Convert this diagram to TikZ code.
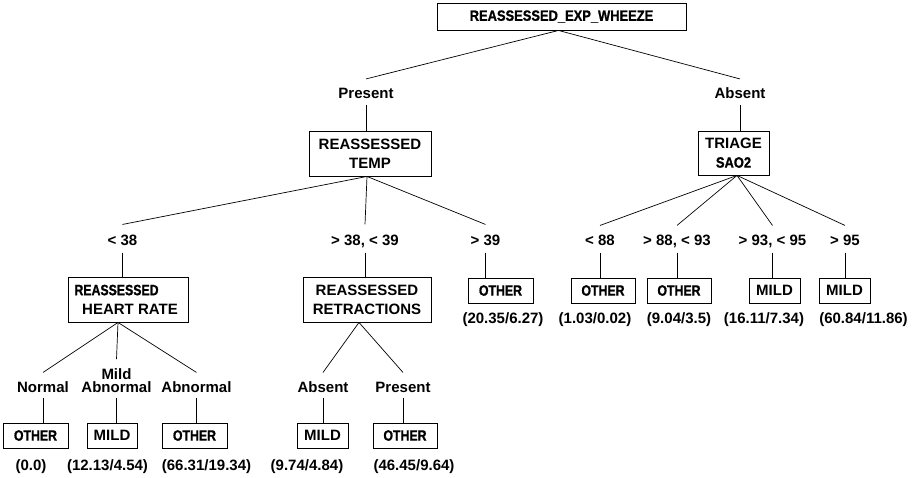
\documentclass[tikz,border=0pt]{standalone}
\usepackage{fontspec}
\setmainfont{Liberation Sans}
\newfontfamily\cfa[FakeStretch=0.82, BoldFeatures={FakeBold=1.0}]{Liberation Sans}
\newfontfamily\cfb[FakeStretch=0.86, BoldFeatures={FakeBold=1.0}]{Liberation Sans}
\begin{document}
\begin{tikzpicture}[x=1pt,y=-1pt,
  every node/.style={font=\fontsize{15}{19}\selectfont\bfseries, inner sep=0pt},
  box/.style={draw, line width=0.9pt, align=center},
  lbl/.style={text height=10.7pt, text depth=0pt},
  conn/.style={line width=0.7pt}]
\useasboundingbox (0,0) rectangle (918,478);

% boxes
\node[box, minimum width=249pt, minimum height=27pt] (root) at (561.5,16.5) {\cfb REASSESSED\_EXP\_WHEEZE};
\node[box, minimum width=122pt, minimum height=45pt] (temp) at (370,153.5) {REASSESSED\\TEMP};
\node[box, minimum width=71pt, minimum height=44pt] (sao) at (733.5,153) {TRIAGE\\{\cfb SAO2}};
\node[box, minimum width=120pt, minimum height=45pt] (hr) at (128,299.5) {\makebox[107pt][l]{\cfa REASSESSED}\\\hspace*{4pt}HEART RATE};
\node[box, minimum width=128pt, minimum height=45pt] (retr) at (367,299.5) {REASSESSED\\RETRACTIONS};

\node[box, minimum width=65pt, minimum height=25pt] (o3) at (500.5,290.5) {\cfa OTHER};
\node[box, minimum width=64pt, minimum height=25pt] (o4) at (603,290.5) {\cfa OTHER};
\node[box, minimum width=64pt, minimum height=25pt] (o5) at (679,290.5) {\cfa OTHER};
\node[box, minimum width=51pt, minimum height=25pt] (m6) at (774.5,290.5) {MILD};
\node[box, minimum width=51pt, minimum height=25pt] (m7) at (844.5,290.5) {MILD};

\node[box, minimum width=65pt, minimum height=25pt] (b1) at (35.5,435.5) {\cfa OTHER};
\node[box, minimum width=50pt, minimum height=25pt] (b2) at (112,435.5) {MILD};
\node[box, minimum width=65pt, minimum height=25pt] (b3) at (194.5,435.5) {\cfa OTHER};
\node[box, minimum width=51pt, minimum height=25pt] (b4) at (322.5,435.5) {MILD};
\node[box, minimum width=64pt, minimum height=25pt] (b5) at (405,435.5) {\cfa OTHER};

% branch labels
\node[lbl] (pres) at (366,93.5) {Present};
\node[lbl] (abs) at (740,93.5) {Absent};
\node[lbl] (lt38) at (122.5,240) {< 38};
\node[lbl] (mid) at (365,240) {> 38, < 39};
\node[lbl] (gt39) at (485.5,240) {> 39};
\node[lbl] (lt88) at (600,240) {< 88};
\node[lbl] (r2) at (677,240) {> 88, < 93};
\node[lbl] (r3) at (772.5,240) {> 93, < 95};
\node[lbl] (gt95) at (845,240) {> 95};
\node[lbl] (norm) at (43,387) {Normal};
\node[align=center, font=\fontsize{15}{13.5}\selectfont\bfseries] (mab) at (116.5,380.5) {Mild\\Abnormal};
\node[lbl] (abn) at (196.5,387) {Abnormal};
\node[lbl] (rabs) at (323,387) {Absent};
\node[lbl] (rpres) at (403,387) {Present};

% values
\node[lbl] (v3) at (503,318) {(20.35/6.27)};
\node[lbl] (v4) at (595,318) {(1.03/0.02)};
\node[lbl] (v5) at (679,318) {(9.04/3.5)};
\node[lbl] (v6) at (764,318) {(16.11/7.34)};
\node[lbl] (v7) at (863.5,318) {(60.84/11.86)};
\node[lbl] (w1) at (31,465) {(0.0)};
\node[lbl] (w2) at (107.5,465) {(12.13/4.54)};
\node[lbl] (w3) at (206.5,465) {(66.31/19.34)};
\node[lbl] (w4) at (307,465) {(9.74/4.84)};
\node[lbl] (w5) at (414,465) {(46.45/9.64)};

% vertices
\coordinate (rootv) at ([xshift=-3pt]root.south);
\coordinate (tempv) at ([xshift=-3pt]temp.south);
\coordinate (saov) at ([xshift=3.5pt]sao.south);
\coordinate (hrv) at ([xshift=-10pt]hr.south);
\coordinate (retrv) at ([xshift=-8pt]retr.south);

% connectors
\draw[conn] (rootv) -- ([yshift=9pt]pres.north);
\draw[conn] (rootv) -- ([yshift=9pt]abs.north);
\draw[conn] ([yshift=-6pt]pres.south) -- (pres.south |- temp.north);
\draw[conn] ([yshift=-6pt]abs.south) -- (abs.south |- sao.north);

\foreach \l in {lt38,mid,gt39} \draw[conn] (tempv) -- ([yshift=10pt]\l.north);
\foreach \l in {lt88,r2,r3,gt95} \draw[conn] (saov) -- ([yshift=9pt]\l.north);

\draw[conn] ([yshift=-7pt]lt38.south) -- (lt38.south |- hr.north);
\draw[conn] ([yshift=-7pt]mid.south) -- (mid.south |- retr.north);
\draw[conn] ([yshift=-7pt]gt39.south) -- (gt39.south |- o3.north);
\draw[conn] ([yshift=-7pt]lt88.south) -- (lt88.south |- o4.north);
\draw[conn] ([yshift=-7pt]r2.south) -- (r2.south |- o5.north);
\draw[conn] ([yshift=-7pt]r3.south) -- (r3.south |- m6.north);
\draw[conn] ([yshift=-7pt]gt95.south) -- (gt95.south |- m7.north);

\draw[conn] (hrv) -- ([yshift=9pt]norm.north);
\draw[conn] (hrv) -- ([yshift=9pt]mab.north);
\draw[conn] (hrv) -- ([yshift=9pt]abn.north);
\draw[conn] (retrv) -- ([yshift=9pt]rabs.north);
\draw[conn] (retrv) -- ([yshift=9pt]rpres.north);

\draw[conn] ([yshift=-5pt]norm.south) -- (norm.south |- b1.north);
\draw[conn] ([yshift=-5pt]mab.south) -- (mab.south |- b2.north);
\draw[conn] ([yshift=-5pt]abn.south) -- (abn.south |- b3.north);
\draw[conn] ([yshift=-5pt]rabs.south) -- (rabs.south |- b4.north);
\draw[conn] ([yshift=-5pt]rpres.south) -- (rpres.south |- b5.north);
\end{tikzpicture}
\end{document}
